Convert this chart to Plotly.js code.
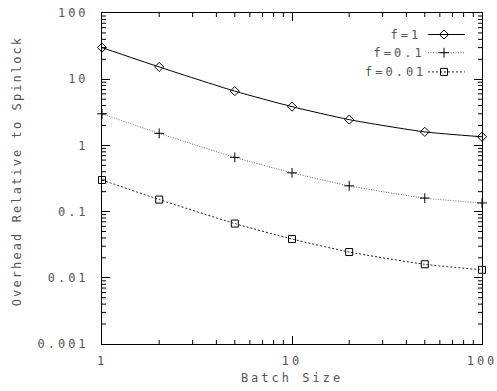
<!DOCTYPE html>
<html><head><meta charset="utf-8">
<script src="https://cdn.plot.ly/plotly-3.0.1.min.js"></script>
<style>
body{margin:0;padding:0;background:#fff;}
#chart text{letter-spacing:3px;}
#chart .annotation-text.ytitle-ann{letter-spacing:2.1px;}
</style>
</head><body>
<div id="chart" style="width:497px;height:391px;"></div>
<script>
var batchSize = [1, 2, 5, 10, 20, 50, 100];
var f1 = [30, 15.3, 6.6, 3.85, 2.45, 1.6, 1.35];
var f01 = [3.0, 1.52, 0.66, 0.385, 0.245, 0.16, 0.135];
var f001 = [0.3, 0.152, 0.066, 0.0385, 0.0245, 0.016, 0.0132];
var seriesNames = ['f=1', 'f=0.1', 'f=0.01'];
var xTicks = [1, 10, 100];
var xTickText = ['1', '10', '100'];
var xMinor = [2,3,4,5,6,7,8,9,20,30,40,50,60,70,80,90];
var yTicks = [0.001, 0.01, 0.1, 1, 10, 100];
var yTickText = ['0.001', '0.01', '0.1', '1', '10', '100'];
var yMinor = [];
[0.001, 0.01, 0.1, 1, 10].forEach(function(d){ for (var k = 2; k <= 9; k++) yMinor.push(d * k); });

var styles = [
  {color:'#000', dash:'solid', sym:'diamond-open', size:7},
  {color:'#666', dash:'1px,1.5px', sym:'cross-thin-open', size:7},
  {color:'#222', dash:'2px,2px', sym:'square-open', size:7}
];
var series = [f1, f01, f001];
var traces = [];
series.forEach(function(s, i){
  traces.push({x: batchSize, y: s, mode:'lines+markers', name: seriesNames[i],
    line:{color:styles[i].color, width:1, dash:styles[i].dash, shape:'spline', smoothing:0.6},
    marker:{symbol:styles[i].sym, size:styles[i].size, color:'#000', line:{width:1, color:'#000'}},
    showlegend:false, cliponaxis:false});
});
var legY = [0.935, 0.88, 0.822];
var annotations = [];
series.forEach(function(s, i){
  traces.push({x:[0.858, 0.955], y:[legY[i], legY[i]], xaxis:'x2', yaxis:'y2', mode:'lines',
    line:{color:styles[i].color, width:1, dash:styles[i].dash}, showlegend:false, hoverinfo:'skip'});
  traces.push({x:[0.9], y:[legY[i]], xaxis:'x2', yaxis:'y2', mode:'markers',
    marker:{symbol:styles[i].sym, size:styles[i].size, color:'#000', line:{width:1,color:'#000'}}, showlegend:false, hoverinfo:'skip'});
  annotations.push({xref:'x2', yref:'y2', x:0.835, y:legY[i], xanchor:'right', yanchor:'middle',
    text: seriesNames[i], showarrow:false, font:{family:'DejaVu Sans Mono', size:12, color:'#555'}});
});
var font = {family:'DejaVu Sans Mono', size:12, color:'#555'};
annotations.push({xref:'paper', yref:'paper', x:-0.224, y:0.523, xanchor:'center', yanchor:'middle',
  textangle:-90, text:'Overhead Relative to Spinlock', showarrow:false, font:font});

// minor tick marks (axis decoration) built from the minor tick value arrays
var shapes = [];
var tl = {color:'#000', width:1};
xMinor.forEach(function(v){
  shapes.push({type:'line', xref:'x', yref:'paper', ysizemode:'pixel', yanchor:0, x0:v, x1:v, y0:0, y1:4, line:tl});
  shapes.push({type:'line', xref:'x', yref:'paper', ysizemode:'pixel', yanchor:1, x0:v, x1:v, y0:0, y1:-4, line:tl});
});
yMinor.forEach(function(v){
  shapes.push({type:'line', yref:'y', xref:'paper', xsizemode:'pixel', xanchor:0, y0:v, y1:v, x0:0, x1:4, line:tl});
  shapes.push({type:'line', yref:'y', xref:'paper', xsizemode:'pixel', xanchor:1, y0:v, y1:v, x0:0, x1:-4, line:tl});
});

var layout = {
  width:497, height:391,
  margin:{l:102, r:15, t:13, b:47},
  paper_bgcolor:'#fff', plot_bgcolor:'#fff',
  font: font,
  xaxis:{type:'log', range:[0, 2], tickvals:xTicks, ticktext:xTickText,
    ticks:'inside', ticklen:8, tickcolor:'#000', tickwidth:1, ticklabelstandoff:6,
    showline:true, linecolor:'#000', linewidth:1, mirror:'ticks', showgrid:false, zeroline:false,
    title:{text:'Batch Size', font:font, standoff:6}, tickfont:font},
  yaxis:{type:'log', range:[-3, 2], tickvals:yTicks, ticktext:yTickText,
    ticks:'inside', ticklen:8, tickcolor:'#000', tickwidth:1, ticklabelstandoff:10,
    showline:true, linecolor:'#000', linewidth:1, mirror:'ticks', showgrid:false, zeroline:false,
    tickfont:font},
  xaxis2:{overlaying:'x', range:[0,1], visible:false},
  yaxis2:{overlaying:'y', range:[0,1], visible:false},
  annotations: annotations,
  shapes: shapes,
  showlegend:false
};
Plotly.newPlot('chart', traces, layout, {staticPlot:true}).then(function(gd){
  var anns = gd.querySelectorAll('.annotation-text');
  anns[anns.length - 1].classList.add('ytitle-ann');
});
</script>
</body></html>
